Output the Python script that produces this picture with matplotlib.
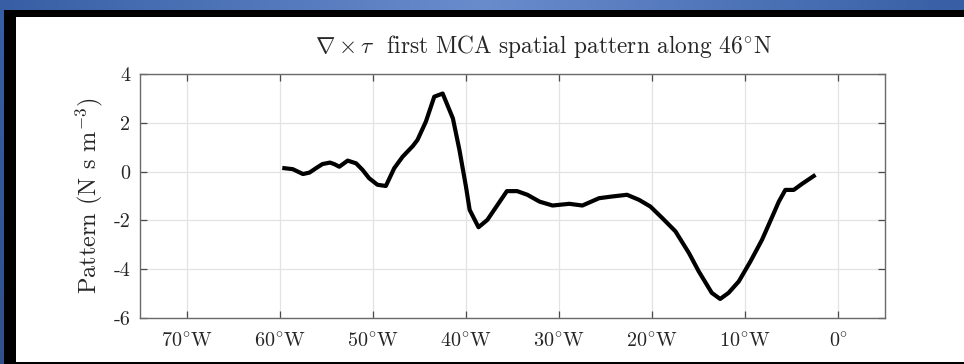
import numpy as np
import matplotlib
matplotlib.use("Agg")
import matplotlib.pyplot as plt
from matplotlib.patches import Rectangle

# ---- data ----
lon = [-59.5, -58.6, -57.5, -56.8, -56.1, -55.4, -54.6, -54.1, -53.6, -52.7,
       -51.8, -51.1, -50.4, -49.5, -48.6, -47.7, -46.8, -45.7, -45.2, -44.3,
       -43.4, -42.5, -41.4, -40.7, -40.0, -39.6, -38.65, -37.7, -36.6, -35.6,
       -34.5, -33.4, -32.1, -30.7, -28.9, -27.5, -25.7, -24.3, -22.7, -21.4,
       -20.2, -18.9, -17.5, -16.05, -15.0, -13.6, -12.7, -11.8, -10.7, -9.45,
       -8.2, -7.1, -6.4, -5.7, -4.8, -3.9, -2.65]
pattern = [0.14, 0.10, -0.10, -0.04, 0.14, 0.31, 0.37, 0.30, 0.20, 0.45,
           0.34, 0.07, -0.27, -0.54, -0.59, 0.14, 0.61, 1.05, 1.30, 2.05,
           3.07, 3.20, 2.18, 0.89, -0.61, -1.57, -2.28, -1.98, -1.36, -0.80,
           -0.80, -0.95, -1.23, -1.39, -1.32, -1.39, -1.09, -1.02, -0.95, -1.16,
           -1.43, -1.91, -2.45, -3.34, -4.09, -4.97, -5.22, -4.97, -4.50, -3.68,
           -2.79, -1.84, -1.23, -0.75, -0.75, -0.50, -0.18]
xticks = [-70, -60, -50, -40, -30, -20, -10, 0]
xticklabels = [r"70$^{\circ}$W", r"60$^{\circ}$W", r"50$^{\circ}$W", r"40$^{\circ}$W",
               r"30$^{\circ}$W", r"20$^{\circ}$W", r"10$^{\circ}$W", r"0$^{\circ}$"]
yticks = [-6, -4, -2, 0, 2, 4]
yticklabels = ["-6", "-4", "-2", "0", "2", "4"]
title = r"$\nabla\times\tau$  first MCA spatial pattern along 46$^{\circ}$N"
ylabel = r"Pattern (N s m$^{-3}$)"

plt.rcParams["font.family"] = "serif"
plt.rcParams["font.serif"] = ["cmr10", "DejaVu Serif"]
plt.rcParams["mathtext.fontset"] = "cm"

W, H = 964, 364
fig = plt.figure(figsize=(W / 100, H / 100), dpi=100)

# background: blue gradient with black frame and white panel
bg = fig.add_axes([0, 0, 1, 1], zorder=0)
bg.set_xlim(0, W)
bg.set_ylim(H, 0)
bg.axis("off")
xs = np.linspace(0, 1, 200)
ys = np.linspace(0, 1, 60)
X, Y = np.meshgrid(xs, ys)
c_edge = np.array([55, 95, 165]) / 255
c_mid = np.array([105, 140, 205]) / 255
wgt = 1 - np.abs(X - 0.5) * 2
img = c_edge[None, None, :] * (1 - wgt[..., None]) + c_mid[None, None, :] * wgt[..., None]
img = img * (1 - 0.15 * Y[..., None])
bg.imshow(img, extent=[0, W, H, 0], aspect="auto", zorder=0)
bg.add_patch(Rectangle((4, 10), W, H, facecolor="black", edgecolor="none", zorder=1))
bg.add_patch(Rectangle((16, 17), W, 345, facecolor="white", edgecolor="none", zorder=2))

ax = fig.add_axes([140 / W, 1 - 318 / H, 745 / W, 244 / H], zorder=1)
ax.plot(lon, pattern, color="black", lw=3.0, solid_joinstyle="round", zorder=3)
ax.set_xlim(-75, 5)
ax.set_ylim(-6, 4)
ax.set_xticks(xticks)
ax.set_xticklabels(xticklabels)
ax.set_yticks(yticks)
ax.set_yticklabels(yticklabels)
ax.grid(True, color="#e3e3e3", lw=0.9)
ax.set_axisbelow(True)
for s in ax.spines.values():
    s.set_color("#6a6a6a")
    s.set_linewidth(1.0)
ax.tick_params(direction="in", length=5, width=0.9, color="#4a4a4a",
               top=True, right=True, labelsize=14.5, labelcolor="#262626")
ax.tick_params(axis="x", pad=10)
ax.tick_params(axis="y", pad=7)
ax.set_ylabel(ylabel, fontsize=17.5, color="#262626", labelpad=6)
fig.text(543 / W, 1 - 53 / H, title, ha="center", va="baseline",
         fontsize=16.8, color="#262626")

fig.savefig("out.png", dpi=100)
